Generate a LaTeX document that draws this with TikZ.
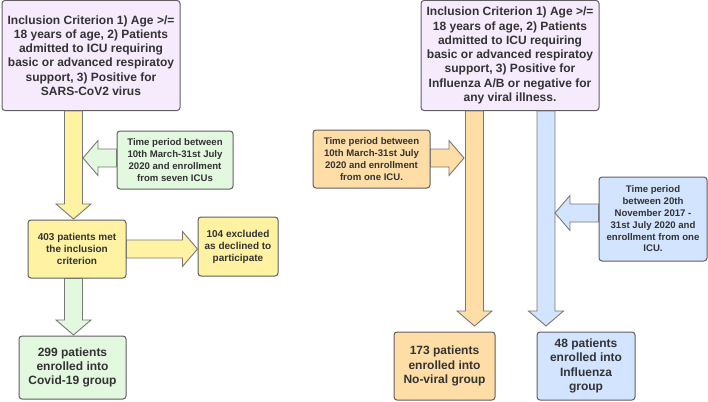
\documentclass[tikz,border=0pt]{standalone}
\usepackage{fontspec}
\setmainfont{Liberation Sans}
\definecolor{critpurple}{RGB}{246, 234, 253}
\definecolor{stepyellow}{RGB}{255, 243, 163}
\definecolor{stepgreen}{RGB}{226, 248, 223}
\definecolor{steporange}{RGB}{255, 221, 166}
\definecolor{stepblue}{RGB}{210, 228, 255}
\definecolor{edgegrey}{RGB}{95, 95, 95}
\definecolor{textgrey}{RGB}{51, 51, 51}
\usetikzlibrary{calc}

\tikzset{
  box/.style={draw=edgegrey, line width=1pt, rounded corners=3pt, inner sep=0pt, align=center, text=textgrey, font=\bfseries},
  bigtext/.style={font=\bfseries\fontsize{12}{14.3}\selectfont},
  smalltext/.style={font=\bfseries\fontsize{9.6}{11.8}\selectfont},
  blockarrow/.style={draw=edgegrey!85, line width=0.9pt, line join=miter}
}

% block arrows: #1 fill colour, #2 from, #3 tip
\newcommand{\blockdown}[3]{%
  \draw[blockarrow, fill=#1] let \p1=#2, \p2=#3 in
    (\x1-9pt,\y1) -- (\x1+9pt,\y1) -- (\x1+9pt,\y2+15pt) -- (\x1+17.5pt,\y2+15pt)
    -- (\x1,\y2) -- (\x1-17.5pt,\y2+15pt) -- (\x1-9pt,\y2+15pt) -- cycle;}
\newcommand{\blockright}[3]{%
  \draw[blockarrow, fill=#1] let \p1=#2, \p2=#3 in
    (\x1,\y1+9pt) -- (\x2-15pt,\y1+9pt) -- (\x2-15pt,\y1+17.5pt) -- (\x2,\y1)
    -- (\x2-15pt,\y1-17.5pt) -- (\x2-15pt,\y1-9pt) -- (\x1,\y1-9pt) -- cycle;}
\newcommand{\blockleft}[3]{%
  \draw[blockarrow, fill=#1] let \p1=#2, \p2=#3 in
    (\x1,\y1+9pt) -- (\x2+15pt,\y1+9pt) -- (\x2+15pt,\y1+17.5pt) -- (\x2,\y1)
    -- (\x2+15pt,\y1-17.5pt) -- (\x2+15pt,\y1-9pt) -- (\x1,\y1-9pt) -- cycle;}

\begin{document}
\begin{tikzpicture}[x=1pt, y=-1pt]
  \useasboundingbox (0,0) rectangle (708,401);

  % Covid-19 arm
  \node[box, bigtext, fill=critpurple, minimum width=178pt, minimum height=110pt] (incl1) at (91,55.5)
    {Inclusion Criterion 1) Age >/=\\ 18 years of age, 2) Patients\\ admitted to ICU requiring\\ basic or advanced respiratoy\\ support, 3) Positive for\\ SARS-CoV2 virus};
  \node[box, smalltext, fill=stepgreen, minimum width=116pt, minimum height=58pt] (time1) at (175,160)
    {Time period between\\ 10th March-31st July\\ 2020 and enrollment\\ from seven ICUs};
  \node[box, font=\bfseries\fontsize{10}{12}\selectfont, fill=stepyellow, minimum width=98pt, minimum height=58pt] (met) at (77,249)
    {403 patients met\\ the inclusion\\ criterion};
  \node[box, font=\bfseries\fontsize{10}{12}\selectfont, fill=stepyellow, minimum width=80pt, minimum height=59pt] (excl) at (238,246.5)
    {104 excluded\\ as declined to\\ participate};
  \node[box, bigtext, fill=stepgreen, minimum width=107pt, minimum height=63pt] (covid) at (72.5,367.5)
    {299 patients\\ enrolled into\\ Covid-19 group};

  % No-viral and Influenza arms
  \node[box, bigtext, fill=critpurple, minimum width=178pt, minimum height=110pt] (incl2) at (510,55.5)
    {Inclusion Criterion 1) Age >/=\\ 18 years of age, 2) Patients\\ admitted to ICU requiring\\ basic or advanced respiratoy\\ support, 3) Positive for\\ Influenza A/B or negative for\\ any viral illness.};
  \node[box, smalltext, fill=steporange, minimum width=117pt, minimum height=58pt] (time2) at (371.5,159)
    {Time period between\\ 10th March-31st July\\ 2020 and enrollment\\ from one ICU.};
  \node[box, smalltext, fill=stepblue, minimum width=108pt, minimum height=84pt] (time3) at (653,219)
    {Time period\\ between 20th\\ November 2017 -\\ 31st July 2020 and\\ enrollment from one\\ ICU.};
  \node[box, bigtext, fill=steporange, minimum width=101pt, minimum height=68pt] (noviral) at (444.5,366)
    {173 patients\\ enrolled into\\ No-viral group};
  \node[box, bigtext, fill=stepblue, minimum width=98pt, minimum height=68pt] (flu) at (586,366)
    {48 patients\\ enrolled into\\ Influenza\\ group};

  % arrow tips
  \coordinate (t1) at (73.5,219);
  \coordinate (t2) at (83,158);
  \coordinate (t3) at (73.5,335);
  \coordinate (t4) at (474.5,326);
  \coordinate (t5) at (546,326);
  \coordinate (t6) at (464,158);
  \coordinate (t7) at (555,213);

  \blockdown{stepyellow}{(incl1.south -| t1)}{(t1)}
  \blockleft{stepgreen}{(time1.west |- t2)}{(t2)}
  \blockright{stepyellow}{(met.east)}{(excl.west)}
  \blockdown{stepgreen}{(met.south -| t3)}{(t3)}
  \blockdown{steporange}{(incl2.south -| t4)}{(t4)}
  \blockdown{stepblue}{(incl2.south -| t5)}{(t5)}
  \blockright{steporange}{(time2.east |- t6)}{(t6)}
  \blockleft{stepblue}{(time3.west |- t7)}{(t7)}
\end{tikzpicture}
\end{document}
